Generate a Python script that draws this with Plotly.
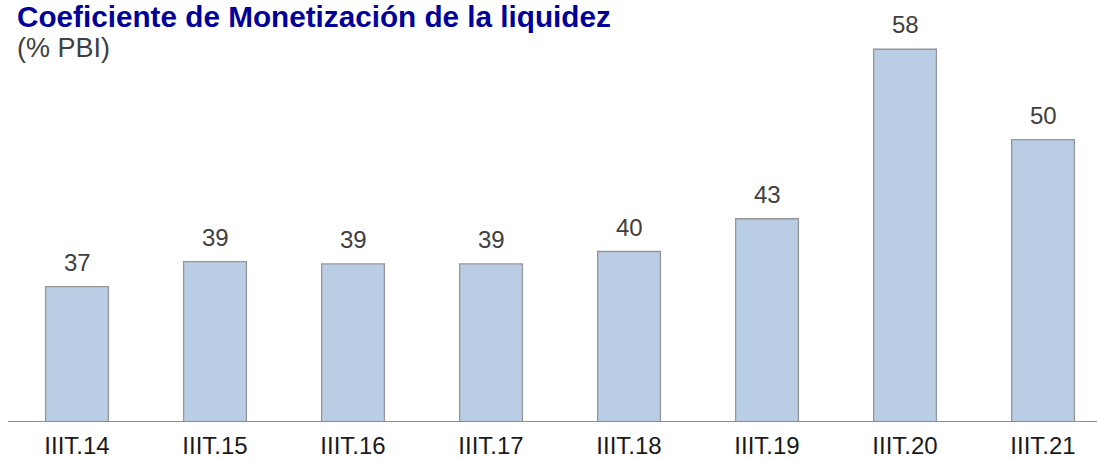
import plotly.graph_objects as go

categories = ["IIIT.14", "IIIT.15", "IIIT.16", "IIIT.17", "IIIT.18", "IIIT.19", "IIIT.20", "IIIT.21"]
values = [36.9, 39.1, 38.9, 38.9, 40.0, 42.9, 57.9, 49.9]
title_text = "Coeficiente de Monetización de la liquidez"
subtitle_text = "(% PBI)"

FONT = "Liberation Sans, Arial, sans-serif"

fig = go.Figure()
fig.add_trace(go.Bar(
    x=categories,
    y=values,
    marker=dict(color="#B9CDE5", line=dict(color="#969696", width=1.3)),
    width=0.455,
    hoverinfo="skip",
))

annotations = []
for c, v in zip(categories, values):
    annotations.append(dict(
        x=c, y=v, xref="x", yref="y", text=f"{v:.0f}",
        showarrow=False, yanchor="bottom", xanchor="center", yshift=9,
        font=dict(family=FONT, size=24, color="#404040"),
    ))
annotations.append(dict(
    x=0, y=1, xref="paper", yref="paper", text=f"<b>{title_text}</b>",
    showarrow=False, xanchor="left", yanchor="top", xshift=8, yshift=1,
    borderpad=0,
    font=dict(family=FONT, size=29.7, color="#000099"),
))
annotations.append(dict(
    x=0, y=1, xref="paper", yref="paper", text=subtitle_text,
    showarrow=False, xanchor="left", yanchor="top", xshift=7, yshift=-31,
    font=dict(family=FONT, size=27, color="#404040"),
))

fig.update_layout(
    width=1097, height=459,
    margin=dict(l=8, r=0, t=0, b=38, autoexpand=False),
    plot_bgcolor="white", paper_bgcolor="white",
    showlegend=False,
    hovermode=False,
    annotations=annotations,
    xaxis=dict(
        range=[-0.5, 7.391], showline=True, linecolor="#8c8c8c", linewidth=1.3,
        showgrid=False, zeroline=False, ticks="", automargin=False,
        ticklabelstandoff=3,
        tickfont=dict(family=FONT, size=24, color="#1a1a1a"),
        fixedrange=True,
    ),
    yaxis=dict(range=[25, 62.26], visible=False, showgrid=False, zeroline=False,
               automargin=False, fixedrange=True),
)

fig.write_html(
    "out.html",
    config={"displayModeBar": False, "staticPlot": True},
    post_script="document.body.style.margin='0';document.body.style.overflow='hidden';",
)
